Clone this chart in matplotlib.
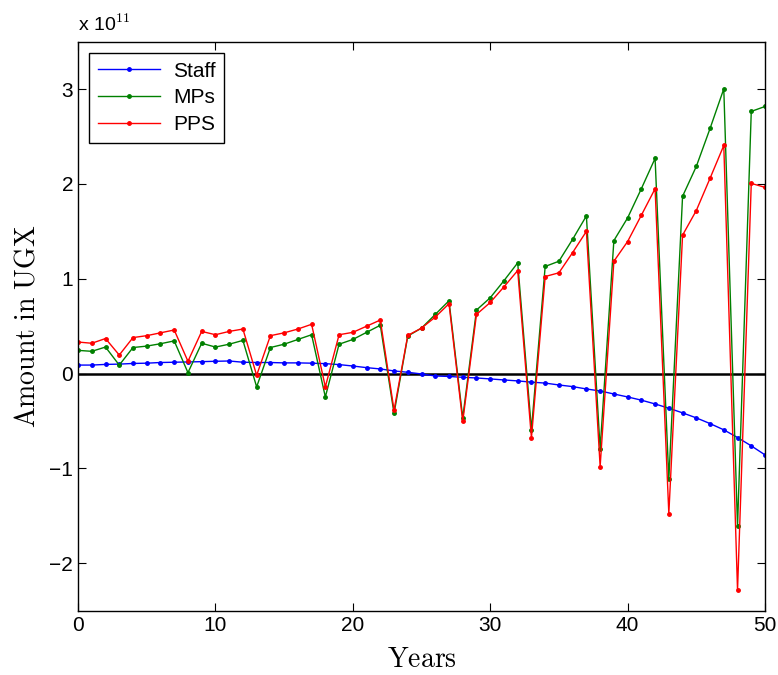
import matplotlib
matplotlib.use("Agg")
import matplotlib.pyplot as plt
import numpy as np

# values in units of 1e11 UGX, years 0..50
years = np.arange(0, 51)
staff = [0.09, 0.09, 0.097, 0.10, 0.107, 0.11, 0.117, 0.12, 0.123, 0.126,
         0.13, 0.133, 0.12, 0.117, 0.117, 0.113, 0.113, 0.11, 0.105, 0.095,
         0.08, 0.063, 0.049, 0.028, 0.014, -0.004, -0.025, -0.03, -0.039, -0.046,
         -0.056, -0.067, -0.077, -0.09, -0.10, -0.12, -0.137, -0.162, -0.183, -0.215,
         -0.246, -0.28, -0.32, -0.365, -0.414, -0.467, -0.527, -0.593, -0.674, -0.762,
         -0.857]
mps = [0.245, 0.235, 0.28, 0.09, 0.275, 0.29, 0.315, 0.345, 0.01, 0.32,
       0.28, 0.31, 0.35, -0.14, 0.275, 0.31, 0.36, 0.41, -0.246, 0.31,
       0.36, 0.435, 0.51, -0.42, 0.396, 0.48, 0.624, 0.768, -0.467, 0.67,
       0.80, 0.98, 1.168, -0.59, 1.13, 1.185, 1.417, 1.663, -0.793, 1.403,
       1.642, 1.95, 2.27, -1.113, 1.87, 2.185, 2.585, 3.003, -1.61, 2.765,
       2.817]
pps = [0.333, 0.32, 0.37, 0.196, 0.38, 0.40, 0.43, 0.46, 0.13, 0.445,
       0.41, 0.445, 0.47, -0.018, 0.40, 0.43, 0.47, 0.52, -0.14, 0.41,
       0.435, 0.50, 0.565, -0.386, 0.403, 0.48, 0.596, 0.737, -0.505, 0.624,
       0.75, 0.915, 1.087, -0.678, 1.024, 1.063, 1.277, 1.50, -0.98, 1.185,
       1.393, 1.67, 1.95, -1.478, 1.46, 1.72, 2.06, 2.406, -2.285, 2.006,
       1.964]

plt.rcParams['font.family'] = ['Liberation Sans', 'DejaVu Sans']
plt.rcParams['mathtext.fontset'] = 'cm'

fig = plt.figure(figsize=(7.78, 6.75), dpi=100)
ax = fig.add_axes([0.1003, 0.0953, 0.883, 0.8429])

ax.plot(years, staff, '.-', color=(0, 0, 1), lw=1, ms=5, label='Staff')
ax.plot(years, mps, '.-', color=(0, 0.5, 0), lw=1, ms=5, label='MPs')
ax.plot(years, pps, '.-', color=(1, 0, 0), lw=1, ms=5, label='PPS')
ax.axhline(0, color='black', lw=1.8, zorder=1)

ax.set_xlim(0, 50)
ax.set_ylim(-2.5, 3.5)
ax.set_xticks(range(0, 51, 10))
ax.set_yticks([-2, -1, 0, 1, 2, 3])
ax.set_yticklabels(['\u22122', '\u22121', '0', '1', '2', '3'])
ax.tick_params(direction='in', top=True, right=True, labelsize=15, length=6, width=0.8)
for s in ax.spines.values():
    s.set_linewidth(1.0)

ax.set_xlabel(r'$\mathrm{Years}$', fontsize=20, labelpad=9)
ax.set_ylabel(r'$\mathrm{Amount\ in\ UGX}$', fontsize=20, labelpad=6)
ax.text(0, 1.012, r'x 10$^{11}$', transform=ax.transAxes, fontsize=14,
        ha='left', va='bottom')

leg = ax.legend(loc='upper left', fontsize=15, fancybox=False, framealpha=1,
                edgecolor='black', borderaxespad=0.55, handlelength=3.0,
                labelspacing=0.38, borderpad=0.4, handletextpad=0.6)
leg.get_frame().set_linewidth(1.0)

fig.savefig('out.png', dpi=100)
